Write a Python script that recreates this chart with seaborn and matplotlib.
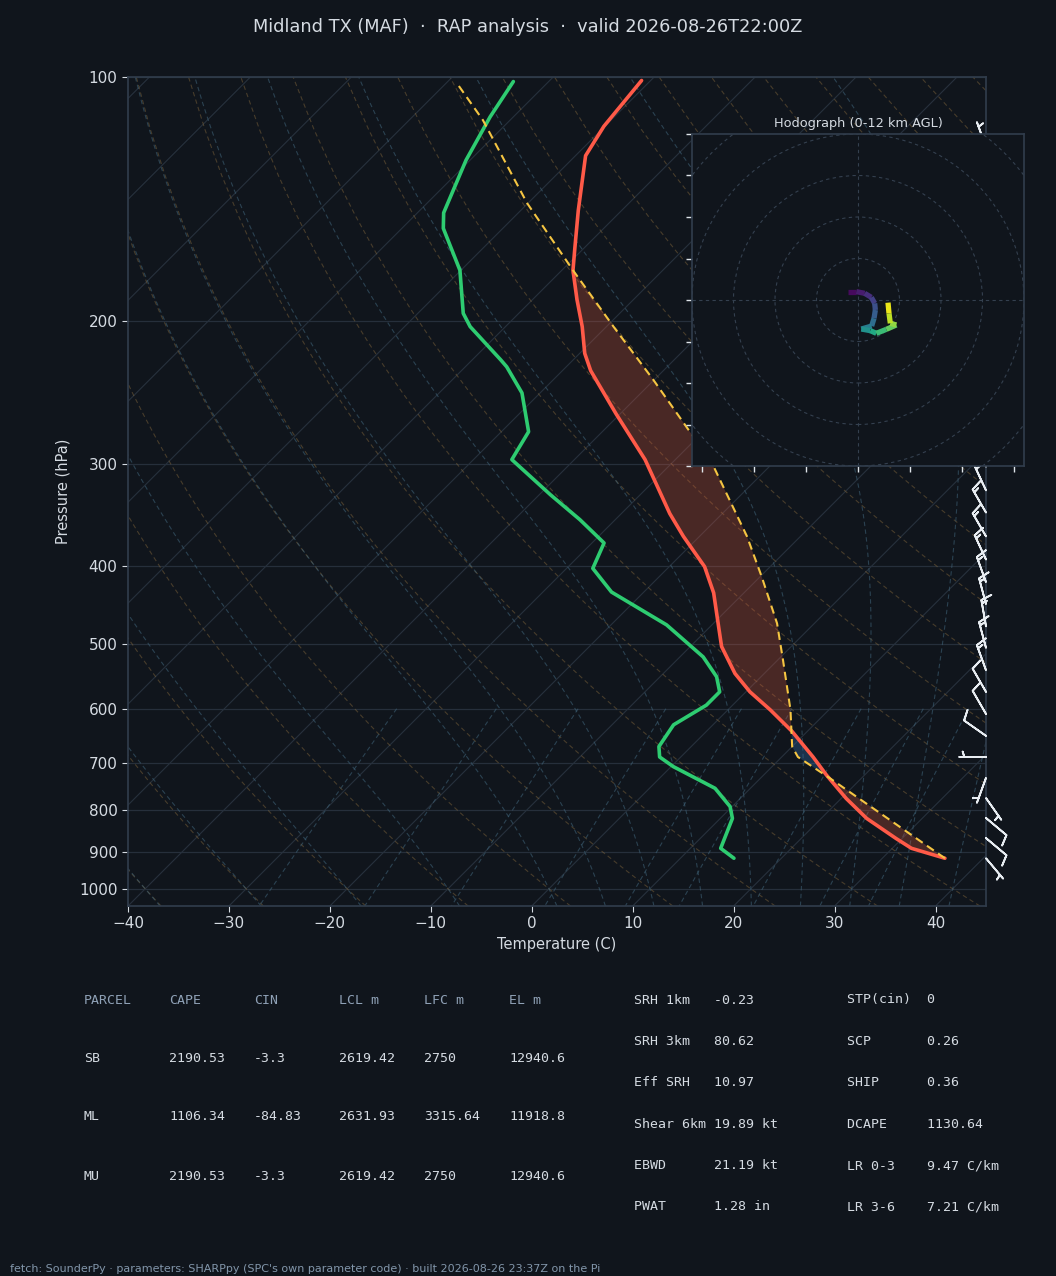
import numpy as np
import matplotlib
matplotlib.use("Agg")
import matplotlib.pyplot as plt
import matplotlib.transforms as mtransforms
from matplotlib.collections import LineCollection
from matplotlib.ticker import NullLocator, ScalarFormatter
import seaborn as sns

# colours
BG = "#10151c"
SPINE = "#303c4b"
GRID = "#262f3b"
TXT = "#d5dbe2"
HEAD = "#8fa1b6"

# sounding (hPa, degC)
pres_t = [917, 891.5, 867, 819, 774, 724, 688, 640, 602, 572, 543, 503, 475, 432, 401,
          368, 345, 296, 260, 230, 219, 203, 188, 173, 162, 146, 125, 115, 101]
temp = [36.2, 31.9, 29.4, 24.5, 20.5, 16.2, 13.1, 8.5, 4.2, 0.4, -2.9, -6.9, -9.2, -13.0, -16.5,
        -21.6, -25.2, -33.0, -40.4, -47.2, -49.5, -52.4, -55.6, -58.9, -61.0, -64.3, -69.0, -70.1, -70.9]

pres_td = [917, 891.5, 819, 792, 752, 707, 688, 668, 628, 594, 572, 548, 518, 473, 431, 403,
           375, 351, 327, 296, 273.5, 245, 227.5, 223, 203, 195.5, 173, 153.6, 147, 126.6, 112, 101.3]
dewp = [15.3, 13.0, 11.2, 9.8, 6.5, 0.2, -2.1, -3.2, -3.9, -2.6, -2.6, -4.4, -7.7, -14.5, -23.2, -27.4,
        -28.8, -33.5, -38.9, -46.2, -47.3, -51.8, -55.9, -57.2, -63.5, -65.5, -70.1, -75.9, -77.4, -80.4, -82.3, -83.5]

pres_pcl = [917, 731, 688, 668, 602, 523, 471, 413, 368, 302, 275, 236, 203, 173, 143, 113, 102]
parcel = [36.2, 16.9, 11.6, 10.0, 6.2, 0.55, -3.7, -9.8, -15.3, -25.5, -31.0, -40.1, -49.3, -58.9,
          -70.1, -82.7, -88.8]

# wind barbs (direction deg, speed kt)
barb_p = [917, 866, 818, 773, 730, 688, 648, 609, 572, 538, 505, 475, 446, 419, 393, 368, 344,
          323, 302, 283, 265, 248, 232, 216, 202, 188, 175, 163, 152, 141, 131, 122]
barb_dir = [140, 130, 130, 145, 200, 270, 305, 330, 330, 340, 345, 350, 345, 340, 335, 330, 330,
            335, 340, 340, 330, 320, 300, 280, 270, 260, 250, 240, 230, 220, 220, 340]
barb_spd = [6, 9, 9, 7, 6, 6, 9, 10, 11, 13, 14, 14, 14, 15, 16, 16, 17,
            16, 16, 15, 14, 12, 10, 8, 7, 6, 5, 4, 4, 3, 2, 5]

# hodograph (m/s) with height km AGL
hodo_h = [0, 0.6, 1.2, 1.9, 2.6, 3.2, 3.8, 4.6, 5.4, 6.6, 7.8, 8.6, 9.6, 10.4, 11.2, 12.0]
hodo_u = [-2.41, -0.40, 1.61, 3.21, 4.02, 4.18, 3.86, 3.29, 0.80, 2.97, 4.42, 6.83, 9.24, 7.79, 7.47, 7.23]
hodo_v = [2.01, 2.01, 1.61, 0.64, -0.80, -2.41, -4.42, -6.27, -6.99, -7.39, -8.03, -7.07, -6.02, -5.62, -3.21, -0.64]

# parameter tables
parcel_rows = ["SB", "ML", "MU"]
col_names = ["PARCEL", "CAPE", "CIN", "LCL m", "LFC m", "EL m"]
cape = [2190.53, 1106.34, 2190.53]
cin = [-3.3, -84.83, -3.3]
lcl = [2619.42, 2631.93, 2619.42]
lfc = [2750, 3315.64, 2750]
el = [12940.6, 11918.8, 12940.6]

stat_lab_a = ["SRH 1km", "SRH 3km", "Eff SRH", "Shear 6km", "EBWD", "PWAT"]
stat_val_a = ["-0.23", "80.62", "10.97", "19.89 kt", "21.19 kt", "1.28 in"]
stat_lab_b = ["STP(cin)", "SCP", "SHIP", "DCAPE", "LR 0-3", "LR 3-6"]
stat_val_b = ["0", "0.26", "0.36", "1130.64", "9.47 C/km", "7.21 C/km"]

sns.set_theme(style="dark", rc={
    "figure.facecolor": BG, "axes.facecolor": BG, "savefig.facecolor": BG,
    "axes.edgecolor": SPINE, "axes.labelcolor": TXT, "text.color": TXT,
    "xtick.color": TXT, "ytick.color": TXT, "xtick.bottom": True, "ytick.left": True,
    "axes.grid": False,
})
plt.rcParams["font.family"] = ["DejaVu Sans"]

FW, FH = 10.56, 12.76
fig = plt.figure(figsize=(FW, FH), dpi=100)
L, B, W, H = 128 / 1056, 1 - 906 / 1276, 858 / 1056, 829 / 1276
ax = fig.add_axes([L, B, W, H])
ax.set_yscale("log")
ax.set_xlim(-40, 45)
ax.set_ylim(1050, 100)
ax.autoscale(False)

# skew-x transform (45 deg on screen), done in axes coords
rot = np.degrees(np.arctan((H * FH) / (W * FW)))
skew = ax.transScale + ax.transLimits + mtransforms.Affine2D().skew_deg(rot, 0) + ax.transAxes

# background: isotherms
p_line = np.linspace(1050, 100, 60)
iso = [np.column_stack([np.full(2, t0), [1050, 100]]) for t0 in np.arange(-130, 50, 10)]
ax.add_collection(LineCollection(iso, colors="#27313d", linewidths=0.8, transform=skew), autolim=False)

# dry adiabats
dry = []
for t0 in np.arange(-40, 246, 10):
    t = (t0 + 273.15) * (p_line / 1000.0) ** 0.2857 - 273.15
    dry.append(np.column_stack([t, p_line]))
ax.add_collection(LineCollection(dry, colors="#8a6c3e", linestyles=(0, (4, 3)), linewidths=0.8,
                                 alpha=0.45, transform=skew), autolim=False)


# moist adiabats
def dtdp(p, t):
    es = 6.112 * np.exp(17.67 * (t - 273.15) / (t - 29.65))
    rs = 0.622 * es / (p - es)
    return (287.04 * t + 2.501e6 * rs) / (1005.7 + 2.501e6 ** 2 * rs * 0.622 / (287.04 * t ** 2)) / p


def moist_profile(t0, plev):
    out = [t0 + 273.15]
    for i in range(1, len(plev)):
        t, p, dp = out[-1], plev[i - 1], plev[i] - plev[i - 1]
        k1 = dtdp(p, t)
        k2 = dtdp(p + dp / 2, t + dp / 2 * k1)
        k3 = dtdp(p + dp / 2, t + dp / 2 * k2)
        k4 = dtdp(p + dp, t + dp * k3)
        out.append(t + dp / 6 * (k1 + 2 * k2 + 2 * k3 + k4))
    return np.array(out) - 273.15


p_up = np.linspace(1000, 100, 120)
p_dn = np.linspace(1000, 1050, 6)
moist = []
for t0 in np.concatenate([np.arange(-40, 0, 10), np.arange(0, 46, 5)]):
    tu = moist_profile(t0, p_up)
    td = moist_profile(t0, p_dn)
    moist.append(np.column_stack([np.concatenate([td[::-1], tu[1:]]),
                                  np.concatenate([p_dn[::-1], p_up[1:]])]))
ax.add_collection(LineCollection(moist, colors="#3d6075", linestyles=(0, (4, 3)), linewidths=0.8,
                                 alpha=0.6, transform=skew), autolim=False)

# mixing ratio lines
p_mix = np.linspace(600, 1050, 30)
mix = []
for w in [0.0004, 0.001, 0.002, 0.004, 0.007, 0.01, 0.016, 0.024, 0.032]:
    e = p_mix * w / (0.622 + w)
    ln = np.log(e / 6.112)
    mix.append(np.column_stack([243.5 * ln / (17.67 - ln), p_mix]))
ax.add_collection(LineCollection(mix, colors="#3d6075", linestyles=(0, (4, 3)), linewidths=0.8,
                                 alpha=0.6, transform=skew), autolim=False)

# CAPE / CIN shading
pg = np.geomspace(max(pres_t), min(pres_pcl), 400)
tt = np.interp(-np.log(pg), -np.log(pres_t), temp)
pt = np.interp(-np.log(pg), -np.log(pres_pcl), parcel)
pos = pt > tt
edges = np.flatnonzero(np.diff(pos.astype(int)) != 0) + 1
runs = np.split(np.arange(len(pg)), edges)
runs = [r for r in runs if pos[r[0]]]
main = max(runs, key=len)
neg = (~pos) & (pg > pg[main[0]])
ax.fill_betweenx(pg, tt, pt, where=pos, interpolate=True, color="#d0553c", alpha=0.3, lw=0,
                 transform=skew, zorder=2)
ax.fill_betweenx(pg, tt, pt, where=neg, interpolate=True, color="#2f6aa8", alpha=0.35, lw=0,
                 transform=skew, zorder=2)

# profiles
sns.lineplot(x=temp, y=pres_t, sort=False, estimator=None, color="#ff5a48", lw=2.6,
             ax=ax, transform=skew, zorder=4)
sns.lineplot(x=dewp, y=pres_td, sort=False, estimator=None, color="#2ecc71", lw=2.6,
             ax=ax, transform=skew, zorder=4)
sns.lineplot(x=parcel, y=pres_pcl, sort=False, estimator=None, color="#f5c542", lw=1.5,
             linestyle=(0, (4, 2.5)), ax=ax, transform=skew, zorder=4)

# wind barbs on the right edge
wd = np.radians(barb_dir)
bu = -np.array(barb_spd) * np.sin(wd)
bv = -np.array(barb_spd) * np.cos(wd)
bt = mtransforms.blended_transform_factory(ax.transAxes, ax.transData)
ax.barbs(np.ones(len(barb_p)), barb_p, bu, bv, transform=bt, clip_on=False, length=6.2,
         color="#e8edf2", linewidth=1.3, zorder=5)

ax.set_xlim(-40, 45)
ax.set_ylim(1050, 100)
ax.set_yticks([1000, 900, 800, 700, 600, 500, 400, 300, 200, 100])
ax.yaxis.set_major_formatter(ScalarFormatter())
ax.yaxis.set_minor_locator(NullLocator())
ax.set_xticks(np.arange(-40, 41, 10))
ax.grid(axis="y", color=GRID, lw=0.9)
ax.grid(axis="x", visible=False)
ax.tick_params(length=4, width=0.8, labelsize=11, colors=TXT)
for s in ax.spines.values():
    s.set_color(SPINE)
ax.set_xlabel("Temperature (C)", fontsize=10.5, labelpad=4)
ax.set_ylabel("Pressure (hPa)", fontsize=10.5, labelpad=6)

# hodograph inset
axh = fig.add_axes([692 / 1056, 1 - 466 / 1276, 332 / 1056, 332 / 1276])
axh.set_facecolor(BG)
axh.set_xlim(-40, 40)
axh.set_ylim(-40, 40)
for r in range(10, 61, 10):
    axh.add_patch(plt.Circle((0, 0), r, fill=False, ls=(0, (3, 3)), lw=0.8, color="#34404f"))
axh.axhline(0, ls=(0, (3, 3)), lw=0.8, color="#34404f")
axh.axvline(0, ls=(0, (3, 3)), lw=0.8, color="#34404f")
pts = np.column_stack([hodo_u, hodo_v]).reshape(-1, 1, 2)
segs = np.concatenate([pts[:-1], pts[1:]], axis=1)
hl = LineCollection(segs, cmap="viridis", norm=plt.Normalize(0, 12), linewidths=3.8, capstyle="butt")
hl.set_array((np.array(hodo_h[:-1]) + np.array(hodo_h[1:])) / 2)
axh.add_collection(hl)
axh.set_xticks(np.arange(-37.5, 40, 12.5))
axh.set_yticks(np.arange(-40, 41, 10))
axh.set_xticklabels([])
axh.set_yticklabels([])
axh.tick_params(length=4, width=1, colors="#dfe5ea")
for s in axh.spines.values():
    s.set_color(SPINE)
axh.set_title("Hodograph (0-12 km AGL)", fontsize=9.3, color=TXT, pad=5)

# title
fig.text(0.5, 1 - 27 / 1276, "Midland TX (MAF)  \u00b7  RAP analysis  \u00b7  valid 2026-08-26T22:00Z",
         ha="center", va="center", fontsize=12.8, color=TXT)

# parcel table
mono = "DejaVu Sans Mono"
col_x = [84, 169, 254, 339, 424, 509]
for j, name in enumerate(col_names):
    fig.text(col_x[j] / 1056, 1 - 1000 / 1276, name, family=mono, fontsize=9.5, color=HEAD, va="center")
for i, row in enumerate(parcel_rows):
    y = 1 - (1058 + i * 59) / 1276
    vals = [row] + [f"{v:g}" for v in (cape[i], cin[i], lcl[i], lfc[i], el[i])]
    for j, v in enumerate(vals):
        fig.text(col_x[j] / 1056, y, v, family=mono, fontsize=9.5, color=TXT, va="center")

# index table
for i in range(len(stat_lab_a)):
    y = 1 - (1000 + i * 41.4) / 1276
    fig.text(634 / 1056, y, f"{stat_lab_a[i]:<10}{stat_val_a[i]}", family=mono, fontsize=9.5,
             color=TXT, va="center")
    fig.text(847 / 1056, y, f"{stat_lab_b[i]:<10}{stat_val_b[i]}", family=mono, fontsize=9.5,
             color=TXT, va="center")

fig.text(10 / 1056, 1 - 1269 / 1276,
         "fetch: SounderPy \u00b7 parameters: SHARPpy (SPC's own parameter code) \u00b7 built 2026-08-26 23:37Z on the Pi",
         fontsize=8, color="#8296aa", va="center")

fig.savefig("out.png", dpi=100, facecolor=BG)
